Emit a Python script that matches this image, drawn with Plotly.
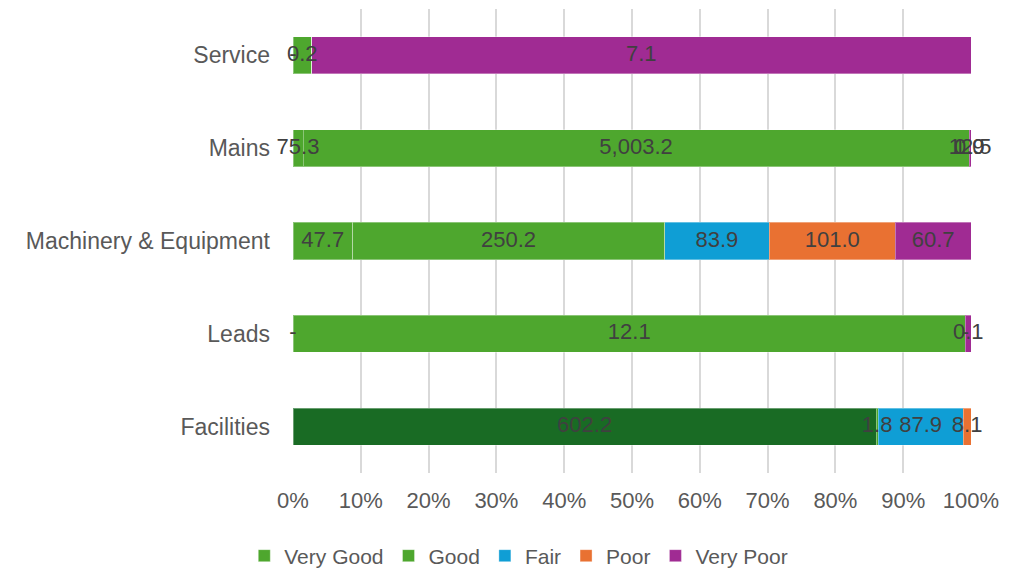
import plotly.graph_objects as go

# Asset condition totals by category (stacked to 100%)
categories = ["Facilities", "Leads", "Machinery & Equipment", "Mains", "Service"]
series_names = ["Very Good", "Good", "Fair", "Poor", "Very Poor"]

very_good = [602.2, 0.0, 47.7, 75.3, 0.0]
good = [1.8, 12.1, 250.2, 5003.2, 0.2]
fair = [87.9, 0.0, 83.9, 1.0, None]
poor = [8.1, None, 101.0, 0.9, None]
very_poor = [0.0, 0.1, 60.7, 12.5, 7.1]

series_values = [very_good, good, fair, poor, very_poor]
series_colors = ["#4EA72E", "#4EA72E", "#0F9ED5", "#E97132", "#A02B93"]
facilities_very_good_color = "#196B24"

tick_values = list(range(0, 101, 10))
tick_labels = [f"{v}%" for v in tick_values]

FONT = "Liberation Sans"
LABEL_SIZE = 22

totals = [sum(s[i] or 0 for s in series_values) for i in range(len(categories))]


def fmt(v):
    if v is None:
        return ""
    if v == 0:
        return "-"
    return f"{v:,.1f}"


fig = go.Figure()

# Points are fed top-down (Service first) so the legend swatch takes the
# series colour rather than the highlighted Facilities segment.
order = list(range(len(categories)))[::-1]

cum = [0.0] * len(categories)
label_x, label_y, label_t = [], [], []
for name, vals, color in zip(series_names, series_values, series_colors):
    pct = [((v or 0) / t * 100) for v, t in zip(vals, totals)]
    colors = [color] * len(categories)
    if name == "Very Good":
        colors[categories.index("Facilities")] = facilities_very_good_color
    fig.add_trace(go.Bar(
        name=name,
        y=[categories[i] for i in order],
        x=[pct[i] for i in order],
        orientation="h",
        marker=dict(color=[colors[i] for i in order],
                    line=dict(color="rgba(255,255,255,0.35)", width=1)),
        hoverinfo="skip",
    ))
    for i, (v, p) in enumerate(zip(vals, pct)):
        if v is not None:
            label_x.append(cum[i] + p / 2)
            label_y.append(categories[i])
            label_t.append(fmt(v))
        cum[i] += p

# Data labels centred on each segment
fig.add_trace(go.Scatter(
    x=label_x, y=label_y, text=label_t, mode="text",
    textposition="middle center",
    textfont=dict(family=FONT, size=LABEL_SIZE, color="#404040"),
    showlegend=False, hoverinfo="skip", cliponaxis=False,
))

fig.update_layout(
    width=1025, height=569,
    barmode="stack", bargap=0.6,
    plot_bgcolor="white", paper_bgcolor="white",
    margin=dict(l=293, r=54, t=8.5, b=95.5, autoexpand=False),
    font=dict(family=FONT, size=LABEL_SIZE, color="#595959"),
    legend=dict(
        orientation="h", traceorder="normal",
        x=0.333, xanchor="center",
        yref="container", y=1 - 556 / 569, yanchor="middle",
        font=dict(family=FONT, size=21, color="#595959"),
        itemwidth=30,
    ),
    xaxis=dict(
        range=[0, 100], tickvals=tick_values, ticktext=tick_labels,
        showgrid=True, gridcolor="#D9D9D9", gridwidth=1.5,
        zeroline=False, showline=False, ticks="", ticklabelstandoff=12,
        tickfont=dict(size=22),
    ),
    yaxis=dict(
        categoryorder="array", categoryarray=categories,
        showgrid=False, zeroline=False, showline=False, ticks="",
        ticklabelstandoff=22, tickfont=dict(size=23),
    ),
)

fig.write_html("out.html")
